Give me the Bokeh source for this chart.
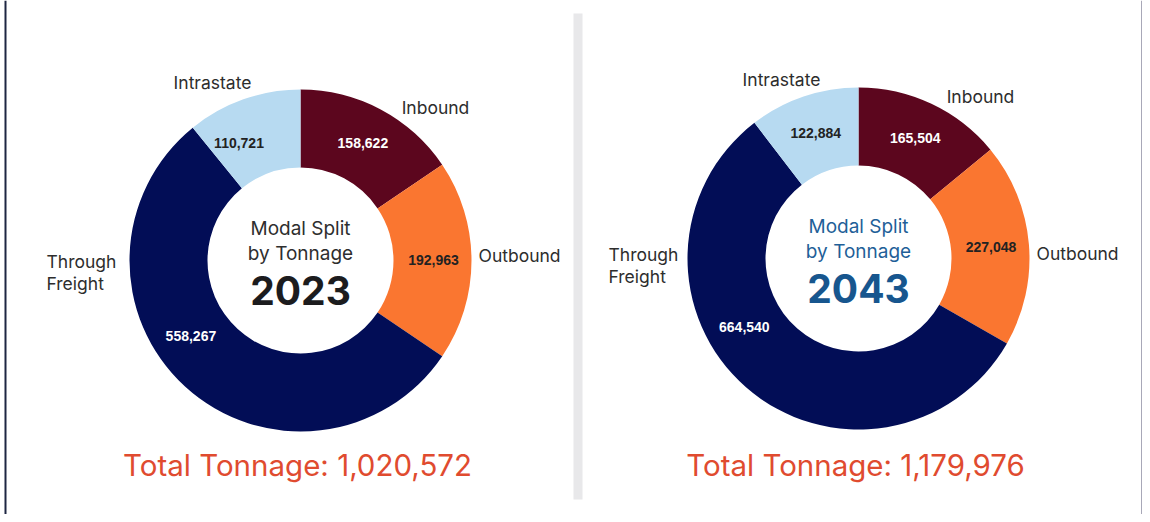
import math
from bokeh.plotting import figure
from bokeh.models import Range1d, ColumnDataSource
from bokeh.core.properties import value
from bokeh.embed import file_html
from bokeh.resources import INLINE

# ---- data ----
categories = ["Inbound", "Outbound", "Through Freight", "Intrastate"]
years = ["2023", "2043"]
tons_2023 = [158622, 192963, 558267, 110721]
tons_2043 = [165504, 227048, 664540, 122884]
totals = ["1,020,572", "1,179,976"]
colors = ["#5c061e", "#fa7630", "#020d56", "#b7daf1"]
value_text_colors = ["#ffffff", "#222222", "#ffffff", "#222222"]

W, H = 1142, 514
p = figure(width=W, height=H, output_backend="svg", toolbar_location=None,
           x_range=Range1d(0, W), y_range=Range1d(0, H), min_border=0,
           background_fill_color="white", border_fill_color="white")
p.axis.visible = False
p.grid.visible = False
p.outline_line_color = None


def px(x):
    return x


def py(y):
    return H - y


# frame pieces
p.quad(left=[px(573)], right=[px(582)], top=[py(13)], bottom=[py(499)],
       fill_color="#e8e8ea", line_color=None)
p.quad(left=[px(4)], right=[px(6)], top=[H], bottom=[0], fill_color="#1e2642", line_color=None)
p.quad(left=[W - 1.5], right=[W], top=[H], bottom=[0], fill_color="#a8a8b8", line_color=None)

FONT = "Inter"
charts = [
    dict(vals=tons_2023, year=years[0], total=totals[0], c=(300, 260),
         shift=[0, 0, -13, 8], title_col="#2e2e2e", year_col="#1c1c1e",
         cat_pos=[(135, -153, "center"), (178, -5, "left"), (-254, 1, "left"), (-88, -178, "center")]),
    dict(vals=tons_2043, year=years[1], total=totals[1], c=(858, 258),
         shift=[0, 0, -18, 0], title_col="#1f5f98", year_col="#17568e",
         cat_pos=[(122, -162, "center"), (178, -5, "left"), (-250, -4, "left"), (-77, -179, "center")]),
]

R_OUT, R_IN = 171, 93
for ch in charts:
    vals = ch["vals"]
    tot = sum(vals)
    cx, cy = ch["c"]
    starts, ends, mids = [], [], []
    acc = 0.0
    for i, v in enumerate(vals):
        a0 = 90 - acc / tot * 360
        acc += v
        a1 = 90 - acc / tot * 360
        starts.append(math.radians(a0))
        ends.append(math.radians(a1))
        mids.append(math.radians((a0 + a1) / 2 + ch["shift"][i]))
    src = ColumnDataSource(dict(start=starts, end=ends, color=colors,
                                x=[px(cx)] * 4, y=[py(cy)] * 4))
    p.annular_wedge(x="x", y="y", inner_radius=R_IN, outer_radius=R_OUT,
                    start_angle="start", end_angle="end", direction="clock",
                    fill_color="color", line_color=None, source=src)
    # value labels
    rl = 133
    vsrc = ColumnDataSource(dict(
        x=[px(cx) + rl * math.cos(m) for m in mids],
        y=[py(cy) + rl * math.sin(m) for m in mids],
        t=[f"{v:,}" for v in vals], col=value_text_colors))
    p.text(x="x", y="y", text="t", text_color="col", source=vsrc,
           text_font=value("Liberation Sans"), text_font_style="bold",
           text_font_size="14px", text_align="center", text_baseline="middle")
    # category labels
    for cat, (dx, dy, al) in zip(categories, ch["cat_pos"]):
        if cat == "Through Freight":
            lines = ["Through", "Freight"]
        else:
            lines = [cat]
        for k, ln in enumerate(lines):
            p.text(x=[px(cx + dx)], y=[py(cy + dy + 22 * k)], text=[ln],
                   text_color="#2d2d2d", text_font=value(FONT), text_font_size="17.5px",
                   text_align=al, text_baseline="middle")
    # center
    p.text(x=[px(cx)] * 2, y=[py(cy - 32), py(cy - 7)], text=["Modal Split", "by Tonnage"],
           text_color=ch["title_col"], text_font=value(FONT), text_font_size="19px",
           text_align="center", text_baseline="middle")
    p.text(x=[px(cx)], y=[py(cy + 30)], text=[ch["year"]], text_color=ch["year_col"],
           text_font=value(FONT), text_font_style="bold", text_font_size="39px",
           text_align="center", text_baseline="middle")
    # total
    p.text(x=[px(cx - 3)], y=[py(464)], text=["Total Tonnage: " + ch["total"]],
           text_color="#e04b2f", text_font=value(FONT), text_font_size="29.5px",
           text_align="center", text_baseline="middle")

open("out.html", "w").write(file_html(p, INLINE))
